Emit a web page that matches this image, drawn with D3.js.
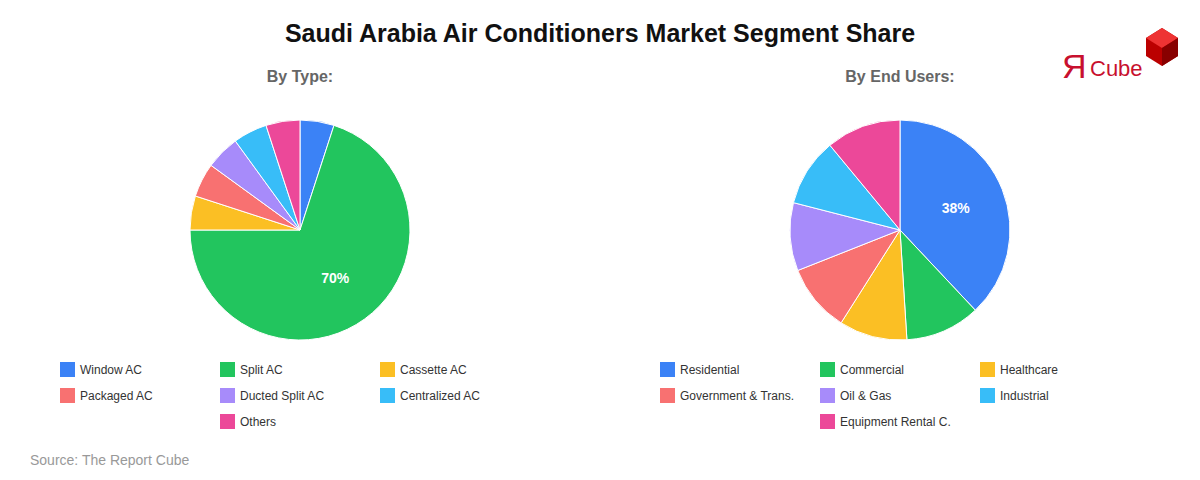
<!DOCTYPE html>
<html><head><meta charset="utf-8">
<script src="https://cdn.jsdelivr.net/npm/d3@7"></script>
<style>body{margin:0;background:#fff;font-family:"Liberation Sans",Arial,sans-serif}</style>
</head><body><svg id="c" width="1200" height="480"></svg>
<script>
const typeLabels = ["Window AC","Split AC","Cassette AC","Packaged AC","Ducted Split AC","Centralized AC","Others"];
const typeValues = [5,70,5,5,5,5,5];
const userLabels = ["Residential","Commercial","Healthcare","Government & Trans.","Oil & Gas","Industrial","Equipment Rental C."];
const userValues = [38,11,10,10,10,10,11];
const colors = ["#3b82f6","#22c55e","#fbbf24","#f87171","#a78bfa","#38bdf8","#ec4899"];

const svg = d3.select("#c");
svg.append("text").attr("x",600).attr("y",42).attr("text-anchor","middle")
  .style("font-size","25px").style("font-weight","bold").attr("fill","#111")
  .text("Saudi Arabia Air Conditioners Market Segment Share");
svg.append("text").attr("x",30).attr("y",465).style("font-size","14px").attr("fill","#999")
  .text("Source: The Report Cube");

// logo
const logo = svg.append("g");
logo.append("text").attr("x",1062).attr("y",78).style("font-size","34px").attr("fill","#c8102e").text("Я");
logo.append("text").attr("x",1090).attr("y",76).style("font-size","22px").attr("fill","#c8102e").text("Cube");
logo.append("path").attr("d","M1146,38 L1162,28 L1178,38 L1178,56 L1162,66 L1146,56Z").attr("fill","#b00");
logo.append("path").attr("d","M1146,38 L1162,28 L1178,38 L1162,48Z").attr("fill","#e33");
logo.append("path").attr("d","M1162,48 L1178,38 L1178,56 L1162,66Z").attr("fill","#800");

function drawPie(cx, title, labels, values, labelIdx, legX){
  svg.append("text").attr("x",cx).attr("y",82).attr("text-anchor","middle")
    .style("font-size","16px").style("font-weight","bold").attr("fill","#666").text(title);
  const data = labels.map((l,i)=>({l, v:values[i], i}));
  const pie = d3.pie().sort(null).value(d=>d.v);
  const arc = d3.arc().innerRadius(0).outerRadius(110);
  const g = svg.append("g").attr("transform",`translate(${cx},230)`);
  const arcs = pie(data);
  g.selectAll("path").data(arcs).join("path").attr("d",arc)
    .attr("fill",d=>colors[d.data.i]).attr("stroke","#fff").attr("stroke-width",1);
  const a = arcs[labelIdx];
  const lc = d3.arc().innerRadius(60).outerRadius(60).centroid(a);
  g.append("text").attr("x",lc[0]).attr("y",lc[1]).attr("text-anchor","middle").attr("dy","0.35em")
    .style("font-size","14px").style("font-weight","bold").attr("fill","#fff").text(values[labelIdx]+"%");
  const lg = svg.append("g");
  data.forEach((d,i)=>{
    const col = i===6 ? 1 : i%3, row = i===6 ? 2 : Math.floor(i/3);
    const x = legX + col*160, y = 362 + row*26;
    lg.append("rect").attr("x",x).attr("y",y).attr("width",15).attr("height",15).attr("fill",colors[i]);
    lg.append("text").attr("x",x+20).attr("y",y+12).style("font-size","12px").attr("fill","#333").text(d.l);
  });
}
drawPie(300,"By Type:",typeLabels,typeValues,1,60);
drawPie(900,"By End Users:",userLabels,userValues,0,660);
</script></body></html>
